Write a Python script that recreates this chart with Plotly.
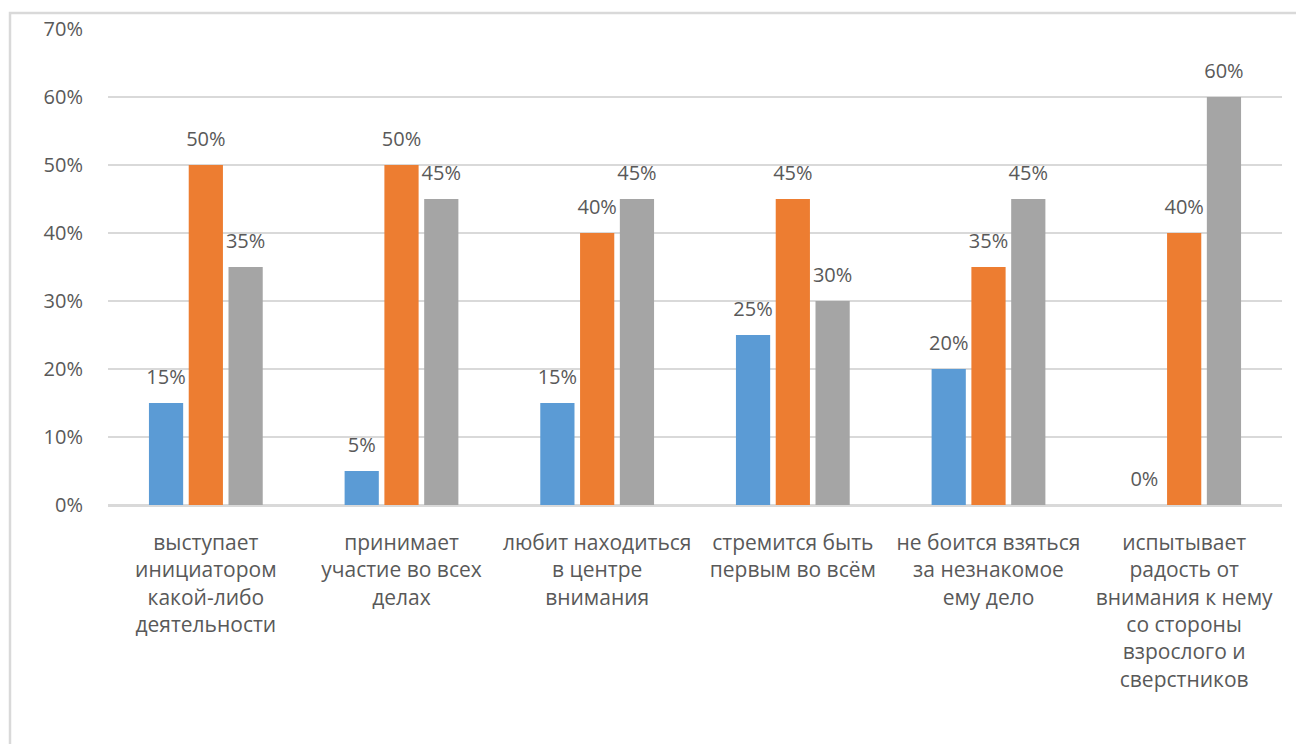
import plotly.graph_objects as go

categories = [
    "выступает<br>инициатором<br>какой-либо<br>деятельности",
    "принимает<br>участие во всех<br>делах",
    "любит находиться<br>в центре<br>внимания",
    "стремится быть<br>первым во всём",
    "не боится взяться<br>за незнакомое<br>ему дело",
    "испытывает<br>радость от<br>внимания к нему<br>со стороны<br>взрослого и<br>сверстников",
]
series1 = [0.15, 0.05, 0.15, 0.25, 0.20, 0.00]
series2 = [0.50, 0.50, 0.40, 0.45, 0.35, 0.40]
series3 = [0.35, 0.45, 0.45, 0.30, 0.45, 0.60]
colors = ["#5B9BD5", "#ED7D31", "#A5A5A5"]
tick_vals = [0, 0.1, 0.2, 0.3, 0.4, 0.5, 0.6, 0.7]
tick_text = ["0%", "10%", "20%", "30%", "40%", "50%", "60%", "70%"]

FONT = "Open Sans"
TXT = "#595959"

fig = go.Figure()
for name, vals, col in zip(["Ряд 1", "Ряд 2", "Ряд 3"], [series1, series2, series3], colors):
    fig.add_trace(go.Bar(
        x=categories, y=vals, name=name, marker_color=col,
        marker_line_width=0,
        text=[f"<span style='font-size:20px'>{round(v*100)}%</span><br> " for v in vals],
        textposition="outside", cliponaxis=False, constraintext="none",
        textfont=dict(family=FONT, size=10, color=TXT),
    ))

L, R, T, B = 108, 14, 29, 239
W, H = 1296, 744
pw = W - L - R
ph = H - T - B

fig.update_layout(
    width=W, height=H,
    margin=dict(l=L, r=R, t=T, b=B),
    barmode="group", bargap=0.39, bargroupgap=0.14,
    showlegend=False,
    plot_bgcolor="white", paper_bgcolor="white",
    font=dict(family=FONT, size=20, color=TXT),
    xaxis=dict(showgrid=False, ticks="", tickfont=dict(family=FONT, size=21, color=TXT),
               showline=False, zeroline=False, ticklabelstandoff=23),
    yaxis=dict(range=[0, 0.7], tickvals=tick_vals, ticktext=tick_text,
               showgrid=True, gridcolor="#D9D9D9", gridwidth=1.5,
               zeroline=True, zerolinecolor="#D9D9D9", zerolinewidth=3,
               showline=False, ticks="", ticklabelstandoff=24,
               tickfont=dict(family=FONT, size=20, color=TXT)),
    shapes=[dict(type="rect", xref="paper", yref="paper",
                 x0=(10 - L) / pw, x1=(W + 20 - L) / pw,
                 y0=-(H + 20 - ph - T) / ph, y1=1 + (T - 13) / ph,
                 line=dict(color="#D9D9D9", width=2.5), fillcolor="rgba(0,0,0,0)", layer="below")],
)

fig.write_html("out.html")
